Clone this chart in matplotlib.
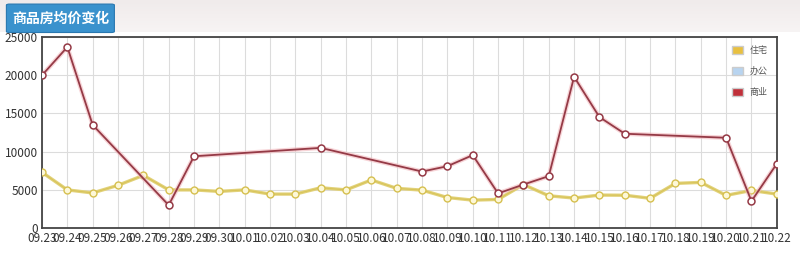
import numpy as np
import matplotlib
matplotlib.use("Agg")
import matplotlib.pyplot as plt
from matplotlib.patches import FancyBboxPatch, Rectangle, Patch

plt.rcParams['font.family'] = ['Noto Sans CJK SC', 'DejaVu Sans']

dates = ["09.23", "09.24", "09.25", "09.26", "09.27", "09.28", "09.29", "09.30",
         "10.01", "10.02", "10.03", "10.04", "10.05", "10.06", "10.07", "10.08",
         "10.09", "10.10", "10.11", "10.12", "10.13", "10.14", "10.15", "10.16",
         "10.17", "10.18", "10.19", "10.20", "10.21", "10.22"]

residential = [7300, 5000, 4600, 5600, 6900, 5000, 5000, 4800,
               5000, 4450, 4450, 5280, 5000, 6300, 5200, 4970,
               4000, 3660, 3750, 5700, 4230, 3930, 4320, 4300,
               3900, 5850, 5980, 4280, 4930, 4450]

nan = np.nan
commercial = [20000, 23700, 13500, nan, nan, 3000, 9400, nan,
              nan, nan, nan, 10500, nan, nan, nan, 7400,
              8100, 9550, 4540, 5700, 6800, 19800, 14530, 12350,
              nan, nan, nan, 11820, 3530, 8420]

legend_labels = ["住宅", "办公", "商业"]
legend_colors = ["#e8c040", "#b8d4f0", "#c0303a"]

fig = plt.figure(figsize=(8, 2.54), dpi=100)
fig.patch.set_facecolor("white")

# header band (soft gradient) and title button
grad = np.linspace(0, 1, 50).reshape(-1, 1)
hax = fig.add_axes([0, 0.875, 1, 0.125])
hax.imshow(grad, aspect="auto", cmap=matplotlib.colors.LinearSegmentedColormap.from_list(
    "hdr", ["#f0ebeb", "#f7f4f4"]), extent=(0, 1, 0, 1))
hax.axis("off")
fig.add_artist(FancyBboxPatch((0.008, 0.872), 0.135, 0.112, transform=fig.transFigure,
                              boxstyle="round,pad=0,rounding_size=0.004",
                              facecolor="#3a92cd", edgecolor="#2a78b0", lw=0.8))
fig.text(0.0755, 0.928, "商品房均价变化", color="white", fontsize=10,
         ha="center", va="center", fontweight="bold")

ax = fig.add_axes([0.0525, 0.102, 0.9185, 0.752])
x = np.arange(len(dates))

ax.plot(x, residential, color="#e2d27a", lw=2.4, zorder=3)
ax.plot(x, residential, color="#d8c45a", lw=0.8, marker="o", ms=5,
        markerfacecolor="#fdf8d8", markeredgecolor="#d6c050", markeredgewidth=1, zorder=3)

c = np.array(commercial, dtype=float)
m = ~np.isnan(c)
ax.plot(x[m], c[m], color="#f2b8bd", lw=3.2, zorder=3, alpha=0.6)
ax.plot(x[m], c[m], color="#953a46", lw=1.3, marker="o", ms=5,
        markerfacecolor="white", markeredgecolor="#953a46", markeredgewidth=1.1, zorder=4)

ax.set_xlim(0, len(dates) - 1)
ax.set_ylim(0, 25000)
ax.set_yticks([0, 5000, 10000, 15000, 20000, 25000])
ax.set_xticks(x)
ax.set_xticklabels(dates)
ax.tick_params(axis="both", length=0, labelsize=8.5, colors="#333333", pad=3)
ax.grid(True, color="#dcdcdc", lw=0.8)
ax.set_axisbelow(True)
for s in ax.spines.values():
    s.set_color("#444444")
    s.set_linewidth(1.3)

handles = [Patch(facecolor=col, edgecolor="#cccccc") for col in legend_colors]
leg = ax.legend(handles, legend_labels, loc="upper right", frameon=False,
                fontsize=6.5, handlelength=1.2, handleheight=1.0,
                labelspacing=1.3, borderaxespad=0.6)
for t in leg.get_texts():
    t.set_color("#555555")

fig.savefig("out.png", dpi=100)
